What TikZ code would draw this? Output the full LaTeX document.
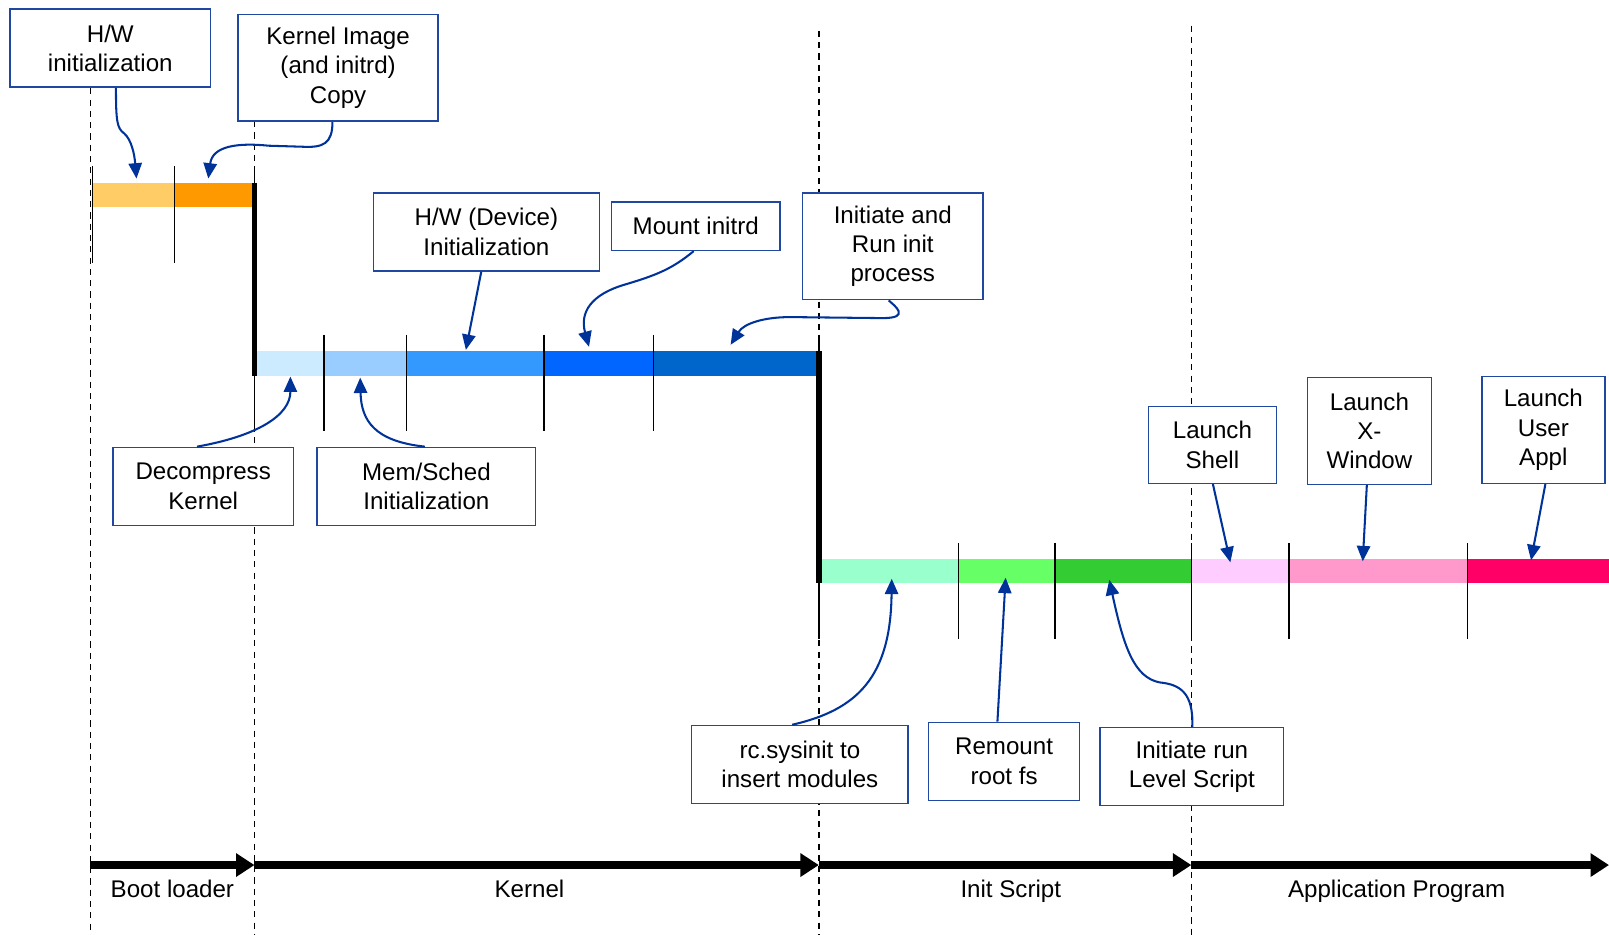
\documentclass[tikz,border=0pt]{standalone}
\usepackage{fontspec}
\setmainfont{Liberation Sans}
\usetikzlibrary{arrows.meta}
\definecolor{boxblue}{HTML}{2048A0}
\definecolor{arrblue}{HTML}{003399}
\definecolor{orA}{HTML}{FFCC66}
\definecolor{orB}{HTML}{FF9900}
\definecolor{blA}{HTML}{CCEBFF}
\definecolor{blB}{HTML}{99CCFF}
\definecolor{blC}{HTML}{3399FF}
\definecolor{blD}{HTML}{0066FF}
\definecolor{blE}{HTML}{0066CC}
\definecolor{grA}{HTML}{99FFCC}
\definecolor{grB}{HTML}{66FF66}
\definecolor{grC}{HTML}{33CC33}
\definecolor{pkA}{HTML}{FFCCFF}
\definecolor{pkB}{HTML}{FF99CC}
\definecolor{pkC}{HTML}{FF0066}
\begin{document}
\begin{tikzpicture}[x=1pt,y=-1pt,
  lbl/.style={draw=boxblue, line width=1.5pt, fill=white, align=center, inner sep=0pt,
    font=\fontsize{23.5}{28.5}\selectfont},
  plain/.style={anchor=base, inner sep=0pt, font=\fontsize{23.5}{28.5}\selectfont},
  callout/.style={draw=arrblue, line width=2pt, -{Triangle[length=15pt,width=13pt]}},
  tickline/.style={line width=1.5pt},
  heavy/.style={line width=5.5pt},
  guide/.style={line width=1.3pt, dash pattern=on 6pt off 5pt},
  phase/.style={line width=7pt, -{Triangle[length=18pt,width=22pt]}},
]
\useasboundingbox (0,0) rectangle (1568,911);
\fill[white] (0,0) rectangle (1568,911);

% dashed guides
\draw[guide] (88,86) -- (88,911);
\draw[guide] (248,118) -- (248,911);
\draw[guide] (798,30) -- (798,911);
\draw[guide] (1161,25) -- (1161,911);

% boot loader bar
\fill[orA] (90,178) rectangle (170,202);
\fill[orB] (170,178) rectangle (248,202);
\draw[tickline] (90,162) -- (90,256);
\draw[tickline] (170,162) -- (170,256);
\draw[tickline] (248,162) -- (248,180);

% kernel bar
\fill[blA] (250,342) rectangle (316,366);
\fill[blB] (316,342) rectangle (396,366);
\fill[blC] (396,342) rectangle (530,366);
\fill[blD] (530,342) rectangle (637,366);
\fill[blE] (637,342) rectangle (798,366);
\draw[heavy] (248,178) -- (248,366);
\draw[tickline] (248,366) -- (248,420);
\foreach \x in {316,396,530,637} \draw[tickline] (\x,326) -- (\x,420);
\draw[tickline] (798,326) -- (798,342);

% init / application bar
\fill[grA] (800,545) rectangle (934,568);
\fill[grB] (934,545) rectangle (1028,568);
\fill[grC] (1028,545) rectangle (1161,568);
\fill[pkA] (1161,545) rectangle (1256,568);
\fill[pkB] (1256,545) rectangle (1430,568);
\fill[pkC] (1430,545) rectangle (1568,568);
\draw[heavy] (798,342) -- (798,568);
\draw[tickline] (798,568) -- (798,623);
\foreach \x in {934,1028,1161,1256,1430} \draw[tickline] (\x,529) -- (\x,623);

% label boxes
\node[lbl, minimum width=195pt, minimum height=76pt] (hwinit) at (107.5,47) {H/W\\initialization};
\node[lbl, minimum width=195pt, minimum height=104pt] (kimg) at (329.5,66) {Kernel Image\\(and initrd)\\Copy};
\node[lbl, minimum width=220pt, minimum height=76pt] (hwdev) at (474,226) {H/W (Device)\\Initialization};
\node[lbl, minimum width=164pt, minimum height=47pt] (mount) at (678,220.5) {Mount initrd};
\node[lbl, minimum width=176pt, minimum height=104pt] (initrun) at (870,240) {Initiate and\\Run init\\process};
\node[lbl, minimum width=176pt, minimum height=76pt] (decomp) at (198,474) {Decompress\\Kernel};
\node[lbl, minimum width=213pt, minimum height=76pt] (memsch) at (415.5,474) {Mem/Sched\\Initialization};
\node[lbl, minimum width=125pt, minimum height=75pt] (lshell) at (1181.5,433.5) {Launch\\Shell};
\node[lbl, minimum width=121pt, minimum height=104pt] (lxwin) at (1334.5,420) {Launch\\X-\\Window};
\node[lbl, minimum width=120pt, minimum height=104pt] (luser) at (1504,419) {Launch\\User\\Appl};
\node[lbl, minimum width=211pt, minimum height=76pt] (rcsys) at (779.5,745) {rc.sysinit to\\insert modules};
\node[lbl, minimum width=147pt, minimum height=76pt] (remount) at (978.5,742) {Remount\\root fs};
\node[lbl, minimum width=179pt, minimum height=76pt] (lvl) at (1161.5,747) {Initiate run\\Level Script};

% arrow targets
\coordinate (tA) at (133,174);
\coordinate (tB) at (203,174);
\coordinate (tC) at (454,341);
\coordinate (tD) at (574,338);
\coordinate (tE) at (712,336);
\coordinate (tF) at (283,367);
\coordinate (tG) at (351,368);
\coordinate (tH) at (1199,548);
\coordinate (tI) at (1328,547);
\coordinate (tJ) at (1492,546);
\coordinate (tK) at (869,564);
\coordinate (tL) at (980,563);
\coordinate (tM) at (1081,565);

% callout arrows
\draw[callout] ([xshift=5.5pt]hwinit.south) .. controls (113,118) and (114,125) .. (121,130) .. controls (128,136) and (131,150) .. (tA);
\draw[callout] ([xshift=-5.5pt]kimg.south) .. controls (324,140) and (315,144) .. (295,143) -- (262,142) .. controls (232,139) and (207,142) .. (tB);
\draw[callout] ([xshift=-5pt]hwdev.south) -- (tC);
\draw[callout] ([xshift=-2pt]mount.south) .. controls (655,262) and (640,268) .. (610,277) .. controls (575,287) and (565,305) .. (tD);
\draw[callout] ([xshift=-4pt]initrun.south) .. controls (872,298) and (888,310) .. (860,310) -- (770,309) .. controls (745,309) and (725,315) .. (tE);
\draw[callout] ([xshift=-6pt]decomp.north) .. controls (250,425) and (283,405) .. (tF);
\draw[callout] ([xshift=-1.5pt]memsch.north) .. controls (365,430) and (352,410) .. (tG);
\draw[callout] ([xshift=0.5pt]lshell.south) -- (tH);
\draw[callout] ([xshift=-2.5pt]lxwin.south) -- (tI);
\draw[callout] ([xshift=2pt]luser.south) -- (tJ);
\draw[callout] ([xshift=-7.5pt]rcsys.north) .. controls (835,692) and (868,660) .. (tK);
\draw[callout] ([xshift=-6.5pt]remount.north) -- (tL);
\draw[callout] ([xshift=0.5pt]lvl.north) .. controls (1163,675) and (1150,667) .. (1130,665) .. controls (1105,660) and (1095,630) .. (tM);

% phase timeline
\coordinate (p0) at (88,843);
\coordinate (p1) at (248,843);
\coordinate (p2) at (798,843);
\coordinate (p3) at (1161,843);
\coordinate (p4) at (1568,843);
\draw[phase] (p0) -- (p1);
\draw[phase] (p1) -- (p2);
\draw[phase] (p2) -- (p3);
\draw[phase] (p3) -- (p4);
\node[plain] (nboot) at (168,875) {Boot loader};
\node[plain] (nkern) at (516,875) {Kernel};
\node[plain] (ninit) at (985,875) {Init Script};
\node[plain] (napp) at (1361,875) {Application Program};
\end{tikzpicture}
\end{document}
